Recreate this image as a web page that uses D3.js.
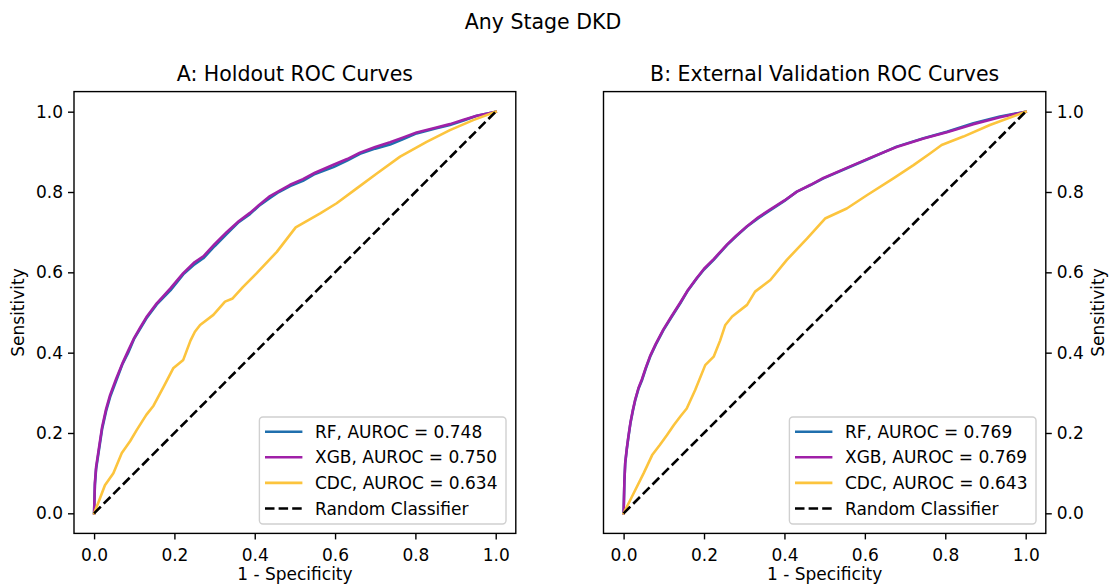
<!DOCTYPE html>
<html><head><meta charset="utf-8">
<script src="https://cdn.jsdelivr.net/npm/d3@7"></script>
<style>
body{margin:0;background:#fff;}
svg{font-family:"DejaVu Sans",sans-serif;}
</style></head>
<body><svg id="chart" width="1112" height="587"></svg>
<script>
const suptitle = "Any Stage DKD";
const panelTitles = ["A: Holdout ROC Curves", "B: External Validation ROC Curves"];
const tickValues = [0, 0.2, 0.4, 0.6, 0.8, 1.0];
const seriesNames = ["RF", "XGB", "CDC"];
const holdoutAuroc = ["0.748", "0.750", "0.634"];
const externalAuroc = ["0.769", "0.769", "0.643"];
const colors = ["#1f6fad", "#a020a8", "#fcc43d"];

const holdoutRF = [[0,0],[0.002,0.07],[0.005,0.11],[0.011,0.15],[0.02,0.21],[0.03,0.255],[0.04,0.29],[0.055,0.33],[0.07,0.37],[0.085,0.40],[0.1,0.435],[0.115,0.46],[0.13,0.485],[0.156,0.52],[0.19,0.555],[0.222,0.595],[0.25,0.62],[0.272,0.635],[0.30,0.665],[0.33,0.695],[0.36,0.725],[0.388,0.745],[0.41,0.765],[0.438,0.785],[0.46,0.80],[0.488,0.815],[0.52,0.828],[0.55,0.845],[0.596,0.862],[0.63,0.878],[0.662,0.895],[0.70,0.908],[0.737,0.918],[0.77,0.932],[0.803,0.946],[0.85,0.958],[0.886,0.967],[0.92,0.978],[0.953,0.99],[1,1]];
const holdoutXGB = [[0,0],[0.002,0.075],[0.005,0.115],[0.011,0.155],[0.02,0.215],[0.03,0.26],[0.04,0.295],[0.055,0.335],[0.07,0.372],[0.085,0.405],[0.1,0.437],[0.115,0.463],[0.13,0.488],[0.156,0.523],[0.19,0.56],[0.222,0.598],[0.25,0.625],[0.272,0.64],[0.30,0.67],[0.33,0.70],[0.36,0.727],[0.388,0.748],[0.41,0.767],[0.438,0.79],[0.46,0.802],[0.488,0.818],[0.52,0.832],[0.55,0.848],[0.596,0.868],[0.63,0.882],[0.662,0.898],[0.70,0.912],[0.737,0.924],[0.77,0.936],[0.803,0.948],[0.85,0.96],[0.886,0.969],[0.92,0.98],[0.953,0.99],[1,1]];
const holdoutCDC = [[0,0],[0.01,0.025],[0.027,0.07],[0.048,0.1],[0.069,0.15],[0.09,0.18],[0.106,0.207],[0.13,0.245],[0.148,0.268],[0.173,0.315],[0.197,0.361],[0.222,0.382],[0.24,0.43],[0.251,0.452],[0.264,0.469],[0.297,0.494],[0.326,0.527],[0.345,0.535],[0.371,0.564],[0.405,0.598],[0.455,0.651],[0.502,0.712],[0.563,0.747],[0.604,0.772],[0.654,0.809],[0.704,0.846],[0.762,0.888],[0.828,0.925],[0.886,0.954],[0.944,0.979],[1,1]];

const externalRF = [[0,0],[0.002,0.08],[0.004,0.124],[0.008,0.16],[0.012,0.19],[0.017,0.224],[0.023,0.255],[0.029,0.282],[0.037,0.31],[0.046,0.332],[0.055,0.36],[0.066,0.39],[0.08,0.42],[0.099,0.456],[0.12,0.49],[0.141,0.523],[0.16,0.555],[0.182,0.585],[0.2,0.607],[0.224,0.631],[0.257,0.668],[0.28,0.69],[0.307,0.714],[0.335,0.735],[0.365,0.755],[0.40,0.778],[0.431,0.801],[0.465,0.817],[0.497,0.834],[0.555,0.859],[0.613,0.884],[0.679,0.913],[0.746,0.934],[0.804,0.95],[0.87,0.971],[0.936,0.988],[1,1]];
const externalXGB = [[0,0],[0.002,0.082],[0.004,0.126],[0.008,0.162],[0.012,0.192],[0.017,0.226],[0.023,0.257],[0.029,0.284],[0.037,0.312],[0.046,0.335],[0.055,0.362],[0.066,0.392],[0.08,0.422],[0.099,0.458],[0.12,0.492],[0.141,0.525],[0.16,0.556],[0.182,0.586],[0.2,0.609],[0.224,0.633],[0.257,0.669],[0.28,0.691],[0.307,0.715],[0.335,0.737],[0.365,0.757],[0.40,0.779],[0.431,0.801],[0.465,0.818],[0.497,0.835],[0.555,0.86],[0.613,0.885],[0.679,0.912],[0.746,0.933],[0.804,0.949],[0.87,0.969],[0.936,0.986],[1,1]];
const externalCDC = [[0,0],[0.01,0.02],[0.025,0.05],[0.05,0.1],[0.071,0.145],[0.09,0.17],[0.108,0.195],[0.125,0.22],[0.141,0.241],[0.157,0.261],[0.178,0.307],[0.203,0.369],[0.224,0.39],[0.24,0.43],[0.253,0.469],[0.27,0.49],[0.307,0.519],[0.327,0.552],[0.365,0.581],[0.406,0.631],[0.456,0.684],[0.501,0.734],[0.555,0.759],[0.605,0.792],[0.671,0.834],[0.721,0.867],[0.762,0.896],[0.791,0.917],[0.845,0.938],[0.911,0.967],[1,1]];
const randomLine = [[0,0],[1,1]];

const svg = d3.select("#chart");
const FS = 17, TFS = 20.5;

svg.append("text").attr("x", 543).attr("y", 29).attr("text-anchor","middle")
  .attr("font-size", TFS).attr("fill","#000").text(suptitle);

const panels = [
  {left:74, right:515.8, title:panelTitles[0], curves:[holdoutRF,holdoutXGB,holdoutCDC], auroc:holdoutAuroc, yside:"left"},
  {left:603.5, right:1045.8, title:panelTitles[1], curves:[externalRF,externalXGB,externalCDC], auroc:externalAuroc, yside:"right"}
];
const plotTop = 91.6, plotBottom = 533.4;

panels.forEach(p => {
  const x = d3.scaleLinear().domain([-0.05,1.05]).range([p.left,p.right]);
  const y = d3.scaleLinear().domain([-0.05,1.05]).range([plotBottom,plotTop]);
  const g = svg.append("g");
  const clipId = "clip" + p.yside;
  svg.append("clipPath").attr("id", clipId).append("rect")
    .attr("x", p.left).attr("y", plotTop).attr("width", p.right-p.left).attr("height", plotBottom-plotTop);

  const line = d3.line().x(d=>x(d[0])).y(d=>y(d[1]));
  const plot = g.append("g").attr("clip-path", `url(#${clipId})`);
  p.curves.forEach((c,i) => {
    plot.append("path").datum(c).attr("d", line).attr("fill","none")
      .attr("stroke", colors[i]).attr("stroke-width", 2.6).attr("stroke-linejoin","round").attr("stroke-linecap","square");
  });
  plot.append("path").datum(randomLine).attr("d", line).attr("fill","none")
    .attr("stroke","#000").attr("stroke-width",2.6).attr("stroke-dasharray","9.5,4.1");

  const xAxis = d3.axisBottom(x).tickValues(tickValues).tickFormat(d3.format(".1f")).tickSize(6).tickPadding(5);
  const gx = g.append("g").attr("transform",`translate(0,${plotBottom})`).call(xAxis);
  const yAxis = (p.yside==="left" ? d3.axisLeft(y) : d3.axisRight(y)).tickValues(tickValues).tickFormat(d3.format(".1f")).tickSize(6).tickPadding(5);
  const gy = g.append("g").attr("transform",`translate(${p.yside==="left"?p.left:p.right},0)`).call(yAxis);
  [gx,gy].forEach(a => {
    a.select(".domain").remove();
    a.selectAll(".tick line").attr("stroke","#000").attr("stroke-width",1.4);
    a.selectAll(".tick text").attr("font-size",FS).attr("fill","#000").attr("font-family","DejaVu Sans");
  });
  gx.selectAll(".tick text").attr("dy","0.95em");

  g.append("rect").attr("x",p.left).attr("y",plotTop).attr("width",p.right-p.left).attr("height",plotBottom-plotTop)
    .attr("fill","none").attr("stroke","#000").attr("stroke-width",1.4);

  const cx = (p.left+p.right)/2;
  g.append("text").attr("x",cx).attr("y",81).attr("text-anchor","middle").attr("font-size",TFS).text(p.title);
  g.append("text").attr("x",cx).attr("y",580).attr("text-anchor","middle").attr("font-size",FS).text("1 - Specificity");
  const ylx = p.yside==="left" ? 24 : 1104;
  g.append("text").attr("transform",`translate(${ylx},${(plotTop+plotBottom)/2}) rotate(-90)`)
    .attr("text-anchor","middle").attr("font-size",FS).text("Sensitivity");

  const labels = seriesNames.map((n,i)=>`${n}, AUROC = ${p.auroc[i]}`).concat(["Random Classifier"]);
  const lg = g.append("g");
  const box = lg.append("rect");
  const texts = labels.map((t,i)=> lg.append("text").attr("font-size",FS).attr("x",0).attr("y",0).text(t));
  const maxW = d3.max(texts, t=>t.node().getComputedTextLength());
  const legRight = p.right - 9.8, legBottom = plotBottom - 9.4;
  const legW = 5.6 + 37.4 + 12.6 + maxW + 8.5;
  const legH = 107;
  const lx = legRight - legW, ly = legBottom - legH;
  box.attr("x",lx).attr("y",ly).attr("width",legW).attr("height",legH).attr("rx",3.5)
    .attr("fill","#fff").attr("fill-opacity",0.8).attr("stroke","#d0d0d0").attr("stroke-width",1.4);
  labels.forEach((t,i)=>{
    const ry = ly + 14.7 + i*25.6;
    lg.append("line").attr("x1",lx+5.6).attr("x2",lx+43).attr("y1",ry).attr("y2",ry)
      .attr("stroke", i<3?colors[i]:"#000").attr("stroke-width",2.6)
      .attr("stroke-dasharray", i<3?null:"9.5,4.1");
    texts[i].attr("x", lx+55.6).attr("y", ry+6);
  });
});
</script></body></html>
